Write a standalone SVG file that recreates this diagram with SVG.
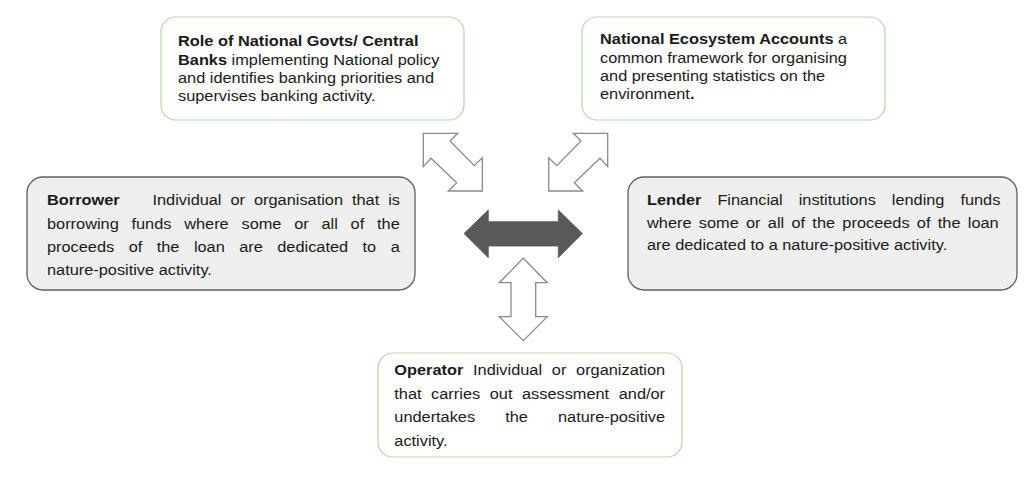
<svg xmlns="http://www.w3.org/2000/svg" width="1028" height="477" viewBox="0 0 1028 477">
<style>
.gbox{fill:#ffffff;stroke:#b9d6ad;stroke-width:1.2}
.dbox{fill:#efefef;stroke:#5f5f5f;stroke-width:1.3}
.t{font-family:"Liberation Sans",Arial,sans-serif;fill:#1a1a1a;font-size:15px}
.b{font-weight:bold}
.open{fill:#ffffff;stroke:#8a8a8a;stroke-width:1.3;stroke-linejoin:miter}
.solid{fill:#595959;stroke:#595959;stroke-width:0.8}
</style>
<rect width="1028" height="477" fill="#ffffff"/>
<g id="connectors">
<polygon class="open" points="423.3,133.3 457.7,133.3 450,141 474.3,165.7 482.3,157.7 482.3,191 448.3,191 456.7,182.7 431,158.3 423.3,166.7"/>
<polygon class="open" points="607.7,133.3 573.3,133.3 581,141 556.7,165.7 548.7,157.7 548.7,191 582.7,191 574.3,182.7 600,158.3 607.7,166.7"/>
<polygon class="solid" points="464,233.5 488.3,210 488.3,221.7 558.3,221.7 558.3,210 582.3,233.5 558.3,257.7 558.3,246 488.3,246 488.3,257.7"/>
<polygon class="open" points="523.3,258.3 547.3,282.7 535.7,282.7 535.7,316.7 547.3,316.7 523.3,340.7 499.3,316.7 511,316.7 511,282.7 499.3,282.7"/>
</g>
<g id="node-govts">
<rect class="gbox" x="161" y="17" width="303" height="103" rx="15"/>
<text class="t" transform="matrix(1.09 0 0 1 178 0)" x="0" y="46.3"><tspan class="b">Role of National Govts/ Central</tspan></text>
<text class="t" transform="matrix(1.09 0 0 1 178 0)" x="0" y="64.7"><tspan class="b">Banks</tspan> implementing National policy</text>
<text class="t" transform="matrix(1.09 0 0 1 178 0)" x="0" y="83">and identifies banking priorities and</text>
<text class="t" transform="matrix(1.09 0 0 1 178 0)" x="0" y="101.4">supervises banking activity.</text>
</g>
<g id="node-accounts">
<rect class="gbox" x="582" y="17" width="303" height="103" rx="15"/>
<text class="t" transform="matrix(1.09 0 0 1 600 0)" x="0" y="44.2"><tspan class="b">National Ecosystem Accounts</tspan> a</text>
<text class="t" transform="matrix(1.09 0 0 1 600 0)" x="0" y="62.6">common framework for organising</text>
<text class="t" transform="matrix(1.09 0 0 1 600 0)" x="0" y="81">and presenting statistics on the</text>
<text class="t" transform="matrix(1.09 0 0 1 600 0)" x="0" y="99.5">environment<tspan class="b">.</tspan></text>
</g>
<g id="node-borrower">
<rect class="dbox" x="27" y="177" width="388" height="113" rx="16"/>
<text class="t" transform="matrix(1.09 0 0 1 47 0)" x="0" y="205.5"><tspan class="b">Borrower</tspan></text>
<text class="t" transform="matrix(1.09 0 0 1 152.5 0)" x="0" y="205.5" word-spacing="4.08">Individual or organisation that is</text>
<text class="t" transform="matrix(1.09 0 0 1 47 0)" x="0" y="228.8" word-spacing="7.56">borrowing funds where some or all of the</text>
<text class="t" transform="matrix(1.09 0 0 1 47 0)" x="0" y="252.1" word-spacing="9.1">proceeds of the loan are dedicated to a</text>
<text class="t" transform="matrix(1.09 0 0 1 47 0)" x="0" y="275.4">nature-positive activity.</text>
</g>
<g id="node-lender">
<rect class="dbox" x="628" y="177" width="389" height="113" rx="16"/>
<text class="t" transform="matrix(1.09 0 0 1 647 0)" x="0" y="205.5" word-spacing="10.46"><tspan class="b">Lender</tspan> Financial institutions lending funds</text>
<text class="t" transform="matrix(1.09 0 0 1 647 0)" x="0" y="228" word-spacing="2.53">where some or all of the proceeds of the loan</text>
<text class="t" transform="matrix(1.09 0 0 1 647 0)" x="0" y="250.5">are dedicated to a nature-positive activity.</text>
</g>
<g id="node-operator">
<rect class="gbox" x="378" y="353" width="304" height="104" rx="15"/>
<text class="t" transform="matrix(1.09 0 0 1 394.3 0)" x="0" y="375" word-spacing="4.79"><tspan class="b">Operator</tspan> Individual or organization</text>
<text class="t" transform="matrix(1.09 0 0 1 394.3 0)" x="0" y="398.8" word-spacing="4.63">that carries out assessment and/or</text>
<text class="t" transform="matrix(1.09 0 0 1 394.3 0)" x="0" y="422.5" word-spacing="23.43">undertakes the nature-positive</text>
<text class="t" transform="matrix(1.09 0 0 1 394.3 0)" x="0" y="446">activity.</text>
</g>
</svg>
